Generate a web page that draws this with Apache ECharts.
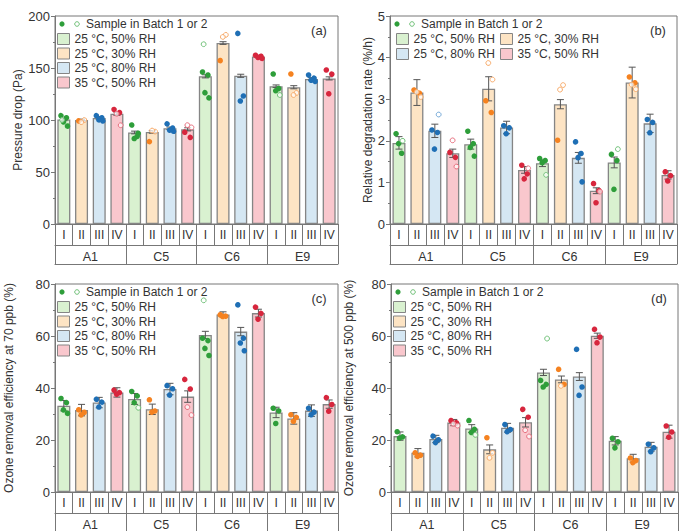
<!DOCTYPE html>
<html><head><meta charset="utf-8">
<script src="https://cdn.jsdelivr.net/npm/echarts@6/dist/echarts.min.js"></script>
<style>html,body{margin:0;padding:0;background:#fff}#c{width:680px;height:531px}</style>
</head><body><div id="c"></div><script>
// ---------- data ----------
const groups = ['A1', 'C5', 'C6', 'E9'];
const condLabels = ['I', 'II', 'III', 'IV'];
const condNames = ['25 °C, 50% RH', '25 °C, 30% RH', '25 °C, 80% RH', '35 °C, 50% RH'];
const yTitles = ['Pressure drop (Pa)', 'Relative degradation rate (%/h)',
  'Ozone removal efficiency at 70 ppb (%)', 'Ozone removal efficiency at 500 ppb (%)'];
const panelTags = ['(a)', '(b)', '(c)', '(d)'];
const batchLabel = 'Sample in Batch 1 or 2';
const yMax = [200, 5, 80, 80];
const yStep = [50, 1, 20, 20];

// rows: condition I..IV ; columns: A1, C5, C6, E9
const aMean = [[100.5, 88, 142, 132.5], [100, 88.5, 174, 131.5], [102, 92, 142.5, 139.5], [106, 91, 161, 140]];
const aErr = [[1.2, 1.3, 1.5, 1.2], [0.8, 1.2, 1.3, 1.5], [1.2, 1.2, 1.5, 1.2], [1.5, 1.5, 1.2, 1.5]];
const aFilled = [
  [[105, 103, 99, 95], [96, 85, 83, 88], [147, 144, 127, 122], [145, 131, 129]],
  [[100], [80], [158], [145]],
  [[105, 103, 101, 100], [97, 93, 91, 90], [184, 124, 119], [144, 141, 139, 138]],
  [[111, 108], [89, 84], [163, 162, 161, 160], [149, 145, 126]]];
const aHollow = [
  [[101], [], [174], [125]],
  [[101, 99], [90, 91], [183, 181], [127, 125]],
  [[], [], [], []],
  [[107, 96], [96, 94], [], []]];

const bMean = [[1.95, 1.92, 1.46, 1.48], [3.16, 3.25, 2.88, 3.40], [2.24, 2.32, 1.59, 2.42], [1.70, 1.30, 0.80, 1.18]];
const bErr = [[0.15, 0.12, 0.08, 0.13], [0.31, 0.29, 0.11, 0.37], [0.16, 0.15, 0.13, 0.22], [0.10, 0.08, 0.07, 0.10]];
const bFilled = [
  [[2.19, 1.72, 1.95], [2.25, 1.95, 1.86, 1.65], [1.60, 1.55, 1.50], [1.70, 1.55, 0.86]],
  [[3.24, 3.16], [2.98, 2.70], [2.04], [3.56, 3.42]],
  [[2.28, 2.22, 1.82], [2.38, 2.33, 2.19], [2.00, 1.72, 1.62, 1.04], [2.54, 2.46, 2.22]],
  [[1.74, 1.62], [1.44, 1.23, 1.11], [1.00, 0.83, 0.54], [1.28, 1.18, 1.06]]];
const bHollow = [
  [[2.02], [], [1.20], [1.82]],
  [[3.20, 3.08], [3.89, 3.50], [3.36, 3.25], [3.35, 3.26]],
  [[2.66], [], [], []],
  [[2.04, 1.40], [1.36], [0.80], []]];

const cMean = [[33.2, 35.8, 60.4, 30.6], [31.5, 31.8, 68.3, 28.3], [34.4, 39.6, 61.7, 31.3], [38.3, 36.7, 68.8, 33.8]];
const cErr = [[2.0, 2.1, 1.4, 2.0], [2.2, 2.0, 1.0, 2.2], [2.0, 2.2, 1.6, 2.2], [1.8, 2.2, 1.5, 1.6]];
const cFilled = [
  [[36.3, 34.7, 31.9, 30.6], [39, 37.3, 34.7], [59.5, 58.5, 55.5, 52.8], [32.5, 31.5, 26.7]],
  [[32, 31, 30], [35.8, 31.5, 31], [68.5, 68, 67.8], [30, 29, 27.5]],
  [[36, 34.9, 33], [41.2, 40, 37.6], [72.3, 59.5, 57.6, 54.6], [32.5, 31, 30]],
  [[39.5, 38.5, 38], [43.6, 39.9], [71.4, 69, 66.8], [36.7, 34, 31.3]]];
const cHollow = [
  [[], [32.8], [74.2], []],
  [[], [], [], []],
  [[], [], [], []],
  [[], [33, 30], [], []]];

const dMean = [[21.5, 24.4, 46.0, 19.7], [15.1, 16.4, 43.3, 13.0], [20.4, 24.7, 44.4, 17.4], [26.7, 26.8, 60.1, 23.2]];
const dErr = [[1.6, 1.5, 1.2, 1.6], [1.6, 1.7, 1.3, 1.5], [1.4, 1.7, 1.5, 1.7], [1.2, 1.8, 1.0, 2.5]];
const dFilled = [
  [[23.6, 21.5, 21], [27.9, 24.4, 23.2], [43.3, 41.8, 40.8], [21, 19.8, 17.4]],
  [[15.5, 14.5, 14], [21.3], [47.6, 41.8], [13.5, 12.5, 11.7]],
  [[21.9, 20.4, 19.3], [26.4, 24.5, 23.5], [55.3, 40.8, 37.6], [18.8, 17.4, 15.9]],
  [[27.9, 27], [32.2, 29.2], [63, 60, 57.8], [25.8, 23.5, 21.5]]];
const dHollow = [
  [[], [22.3], [59.3], []],
  [[], [15.5, 13.6], [41], []],
  [[], [], [], []],
  [[26.5, 26], [24.1, 21.5], [], []]];

// ---------- styles / layout ----------
const FONT = "'Liberation Sans', Arial, sans-serif";
const barFill = ['#d9f1d0', '#fde4c4', '#d5e7f3', '#f9c7cd'];
const ptColor = ['#2e9e3a', '#f58220', '#1f6fb5', '#d7263d'];
const ptLight = ['#72c27a', '#f8ab6a', '#6ea5d6', '#e8707f'];
const lineCol = '#777';
const grids = [
  {left: 55, top: 16, width: 283, height: 208},
  {left: 390, top: 16, width: 287, height: 208},
  {left: 55, top: 284, width: 283, height: 208},
  {left: 391, top: 284, width: 287, height: 208}];
const jitter = [-3, 2.5, -0.5, 3.5, -2, 1];

const panels = [
  {mean: aMean, err: aErr, filled: aFilled, hollow: aHollow},
  {mean: bMean, err: bErr, filled: bFilled, hollow: bHollow},
  {mean: cMean, err: cErr, filled: cFilled, hollow: cHollow},
  {mean: dMean, err: dErr, filled: dFilled, hollow: dHollow}];

const xCats = [];
groups.forEach(() => condLabels.forEach(l => xCats.push(l)));

const option = {
  animation: false,
  backgroundColor: '#fff',
  textStyle: {fontFamily: FONT},
  grid: [], xAxis: [], yAxis: [], series: [], legend: [], graphic: []
};

panels.forEach((P, p) => {
  const g = grids[p];
  option.grid.push(Object.assign({show: true, borderColor: lineCol, borderWidth: 1, containLabel: false}, g));
  option.xAxis.push({
    gridIndex: p, type: 'category', data: xCats, position: 'bottom',
    axisLine: {lineStyle: {color: lineCol}},
    axisTick: {show: true, interval: 0, length: 21, alignWithLabel: false, lineStyle: {color: lineCol}},
    axisLabel: {interval: 0, margin: 5, fontSize: 12, color: '#333', fontFamily: FONT},
    splitLine: {show: false}
  });
  option.xAxis.push({
    gridIndex: p, type: 'category', data: groups, position: 'bottom', offset: 21,
    axisLine: {lineStyle: {color: lineCol}},
    axisTick: {show: true, interval: 0, length: 19, alignWithLabel: false, lineStyle: {color: lineCol}},
    axisLabel: {interval: 0, margin: 5, fontSize: 12.5, color: '#333', fontFamily: FONT},
    splitLine: {show: false}
  });
  option.xAxis.push({
    gridIndex: p, type: 'category', data: groups, position: 'bottom', offset: 40,
    axisLine: {lineStyle: {color: lineCol}}, axisTick: {show: false}, axisLabel: {show: false}
  });
  option.yAxis.push({
    gridIndex: p, type: 'value', min: 0, max: yMax[p], interval: yStep[p],
    name: yTitles[p], nameLocation: 'middle', nameGap: [29, 11, 40, 36][p],
    nameTextStyle: {fontSize: 12, color: '#333', fontFamily: FONT},
    axisLine: {show: true, lineStyle: {color: lineCol}},
    axisTick: {show: true, length: 4, lineStyle: {color: lineCol}},
    minorTick: {show: true, splitNumber: 2, length: 2, lineStyle: {color: lineCol}},
    splitLine: {show: false},
    axisLabel: {fontSize: 13, color: '#333', margin: 5, fontFamily: FONT}
  });
  const xi = p * 3;
  // bars
  condNames.forEach((name, c) => {
    const d = xCats.map(() => '-');
    groups.forEach((gr, gi) => { d[gi * 4 + c] = P.mean[c][gi]; });
    option.series.push({
      type: 'bar', name: name, xAxisIndex: xi, yAxisIndex: p, data: d,
      barWidth: 13, barGap: '-100%',
      itemStyle: {color: barFill[c], borderColor: '#858585', borderWidth: 1.3},
      z: 2
    });
  });
  // error bars
  const errData = [];
  condNames.forEach((n, c) => groups.forEach((gr, gi) => {
    errData.push([gi * 4 + c, P.mean[c][gi], P.err[c][gi]]);
  }));
  option.series.push({
    type: 'custom', xAxisIndex: xi, yAxisIndex: p, data: errData, z: 3,
    encode: {x: 0, y: 1},
    renderItem: (params, api) => {
      const x = api.value(0), m = api.value(1), e = api.value(2);
      const t = api.coord([x, m + e]), b = api.coord([x, m - e]);
      const w = 3.5;
      const st = {stroke: '#555', lineWidth: 1};
      return {type: 'group', children: [
        {type: 'line', shape: {x1: t[0], y1: t[1], x2: b[0], y2: b[1]}, style: st},
        {type: 'line', shape: {x1: t[0] - w, y1: t[1], x2: t[0] + w, y2: t[1]}, style: st},
        {type: 'line', shape: {x1: b[0] - w, y1: b[1], x2: b[0] + w, y2: b[1]}, style: st}]};
    }
  });
  // sample points
  const ptData = [];
  condNames.forEach((n, c) => groups.forEach((gr, gi) => {
    let k = 0;
    P.filled[c][gi].forEach(v => { ptData.push([gi * 4 + c, v, 0, jitter[k % jitter.length], c]); k++; });
    P.hollow[c][gi].forEach(v => { ptData.push([gi * 4 + c, v, 1, jitter[k % jitter.length], c]); k++; });
  }));
  option.series.push({
    type: 'custom', xAxisIndex: xi, yAxisIndex: p, data: ptData, z: 4,
    encode: {x: 0, y: 1},
    renderItem: (params, api) => {
      const pt = api.coord([api.value(0), api.value(1)]);
      const hollow = api.value(2) === 1;
      const c = api.value(4);
      return {type: 'circle', shape: {cx: pt[0] + api.value(3), cy: pt[1], r: hollow ? 2.4 : 2.8},
        style: hollow ? {fill: 'rgba(255,255,255,0.7)', stroke: ptLight[c], lineWidth: 1} : {fill: ptColor[c]}};
    }
  });
  // legend(s)
  const legBase = {
    itemWidth: 12, itemHeight: 11, icon: 'rect', selectedMode: false, padding: 0,
    textStyle: {fontSize: 12, color: '#333', fontFamily: FONT},
    itemStyle: {borderColor: '#858585', borderWidth: 1}
  };
  if (p === 1) {
    option.legend.push(Object.assign({}, legBase, {orient: 'horizontal', left: 396, top: 33, itemGap: 5, data: [condNames[0], condNames[1]]}));
    option.legend.push(Object.assign({}, legBase, {orient: 'horizontal', left: 396, top: 48, itemGap: 5, data: [condNames[2], condNames[3]]}));
  } else {
    option.legend.push(Object.assign({}, legBase, {orient: 'vertical', left: g.left + 2, top: g.top + 17, itemGap: 2.5, data: condNames}));
  }
  // batch legend line + panel tag
  const by = g.top + 8;
  option.graphic.push({type: 'circle', shape: {cx: g.left + 7, cy: by, r: 2.6}, style: {fill: ptColor[0]}, z: 10});
  option.graphic.push({type: 'circle', shape: {cx: g.left + 22, cy: by, r: 2.3}, style: {fill: '#fff', stroke: ptLight[0], lineWidth: 1}, z: 10});
  option.graphic.push({type: 'text', x: g.left + 31, y: by, style: {text: batchLabel, font: '12px ' + FONT, fill: '#333', verticalAlign: 'middle', textVerticalAlign: 'middle'}, z: 10});
  option.graphic.push({type: 'text', x: g.left + g.width - 19, y: g.top + 14, style: {text: panelTags[p], font: '13px ' + FONT, fill: '#333', textAlign: 'center', align: 'center', verticalAlign: 'middle', textVerticalAlign: 'middle'}, z: 10});
});

const chart = echarts.init(document.getElementById('c'), null, {renderer: 'svg', width: 680, height: 531});
chart.setOption(option);
</script></body></html>
